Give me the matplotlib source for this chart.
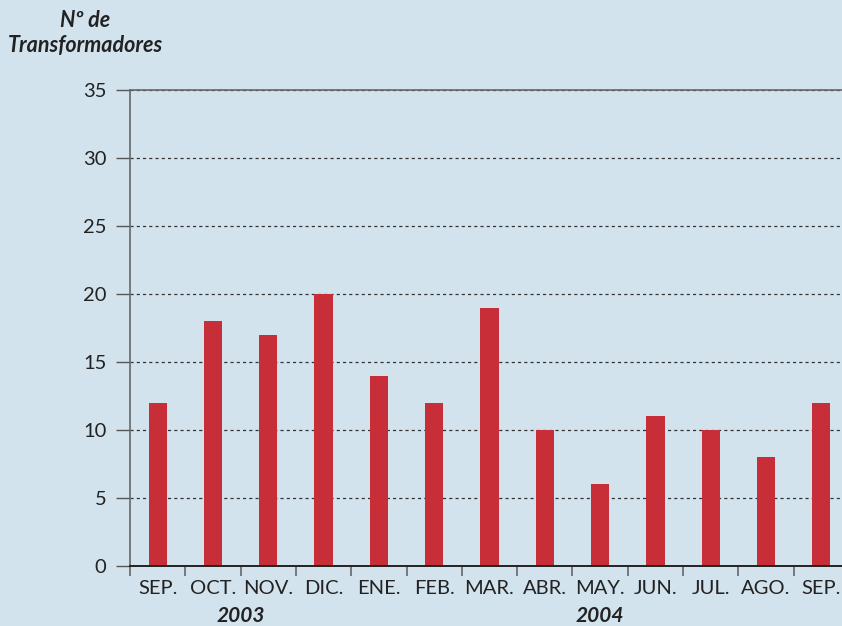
import numpy as np
import matplotlib
matplotlib.use("Agg")
import matplotlib.pyplot as plt

months = ["SEP.", "OCT.", "NOV.", "DIC.", "ENE.", "FEB.", "MAR.",
          "ABR.", "MAY.", "JUN.", "JUL.", "AGO.", "SEP."]
transformadores = [12, 18, 17, 20, 14, 12, 19, 10, 6, 11, 10, 8, 12]
years = ["2003", "2004"]
year_pos = [1.5, 8.0]

bg = "#d3e3ed"
bar_color = "#c72e37"
txt = "#222222"

plt.rcParams["font.family"] = ["Lato", "DejaVu Sans"]

W, H = 842, 626
fig = plt.figure(figsize=(W / 100, H / 100), dpi=100, facecolor=bg)
ax = fig.add_axes([130 / W, (H - 566) / H, (849 - 130) / W, (566 - 90) / H])
ax.set_facecolor(bg)

x = np.arange(len(months))
ax.bar(x, transformadores, width=0.33, color=bar_color, zorder=3)

ax.set_xlim(-0.5, len(months) - 0.5)
ax.set_ylim(0, 35)
ax.set_yticks(range(0, 36, 5))
ax.tick_params(axis="y", length=10, width=1, color="#555555", pad=7,
               labelsize=14.5, labelcolor=txt)
ax.yaxis.grid(True, color="#333333", linestyle=(0, (2.5, 2.5)), linewidth=0.9, zorder=1)

ax.set_xticks(x)
ax.set_xticklabels(months)
ax.tick_params(axis="x", which="major", length=0, pad=10, labelsize=14.5, labelcolor=txt)
ax.set_xticks(np.arange(-0.5, len(months), 1.0), minor=True)
ax.tick_params(axis="x", which="minor", length=7, width=1.2, color="#666666")

ax.spines["right"].set_visible(False)
ax.spines["top"].set_color("#666666")
ax.spines["top"].set_linewidth(1.2)
ax.spines["left"].set_color("#666666")
ax.spines["left"].set_linewidth(1.2)
ax.spines["bottom"].set_color("#222222")
ax.spines["bottom"].set_linewidth(1.4)
ax.spines["bottom"].set_zorder(4)

for yr, p in zip(years, year_pos):
    xd = ax.transData.transform((p, 0))[0]
    fig.text(xd / W, 1 - 622 / H, yr, ha="center", va="baseline",
             fontsize=15, fontweight="bold", fontstyle="italic", color=txt)

fig.text(85 / W, 1 - 27 / H, "Nº de", ha="center", va="baseline",
         fontsize=15.5, fontweight="bold", fontstyle="italic", color=txt)
fig.text(85 / W, 1 - 52 / H, "Transformadores", ha="center", va="baseline",
         fontsize=15.5, fontweight="bold", fontstyle="italic", color=txt)

fig.savefig("out.png", dpi=100, facecolor=bg)
